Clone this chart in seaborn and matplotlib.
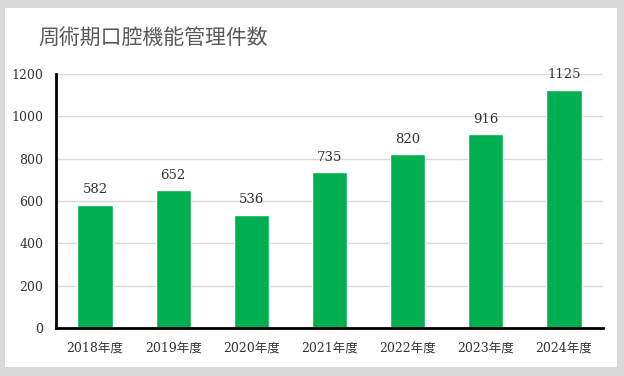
import pandas as pd
import matplotlib
matplotlib.use('Agg')
import matplotlib.pyplot as plt
import seaborn as sns
from matplotlib.patches import Rectangle

# data
years = ['2018年度', '2019年度', '2020年度', '2021年度', '2022年度', '2023年度', '2024年度']
counts = [582, 652, 536, 735, 820, 916, 1125]
y_ticks = [0, 200, 400, 600, 800, 1000, 1200]
title = '周術期口腔機能管理件数'

df = pd.DataFrame({'year': years, 'count': counts})

sns.set_theme(style='white')
plt.rcParams['font.family'] = ['DejaVu Serif', 'Noto Sans CJK JP']

fig = plt.figure(figsize=(6.24, 3.76), dpi=100)
fig.patch.set_facecolor('#d9d9d9')
# white panel inside the gray frame
fig.add_artist(Rectangle((5 / 624, 9 / 376), 612 / 624, 359 / 376,
                         transform=fig.transFigure, facecolor='white',
                         edgecolor='none', zorder=0))

ax = fig.add_axes([56 / 624, 48 / 376, 547 / 624, 254 / 376])
ax.set_facecolor('white')

sns.barplot(data=df, x='year', y='count', color='#00b050', width=0.45,
            saturation=1, ax=ax, zorder=3)

ax.set_ylim(0, 1200)
ax.set_yticks(y_ticks)
ax.yaxis.grid(True, color='#d9d9d9', linewidth=1)
ax.set_axisbelow(True)
ax.set_xlabel('')
ax.set_ylabel('')

for s in ['top', 'right']:
    ax.spines[s].set_visible(False)
for s in ['left', 'bottom']:
    ax.spines[s].set_color('black')
    ax.spines[s].set_linewidth(2)
    ax.spines[s].set_zorder(4)

ax.tick_params(axis='both', length=0, labelsize=9, colors='#333333')
ax.tick_params(axis='x', pad=10)
ax.tick_params(axis='y', pad=9)
for lab in ax.get_xticklabels():
    lab.set_fontfamily(['DejaVu Serif', 'Noto Sans CJK JP'])

for i, v in enumerate(counts):
    ax.text(i, v + 40, str(v), ha='center', va='bottom', fontsize=9.5,
            color='#333333')

fig.text(38 / 624, 1 - 38 / 376, title, fontsize=15, color='#595959',
         family=['Noto Sans CJK JP'], va='center', ha='left')

fig.savefig('out.png', dpi=100, facecolor=fig.get_facecolor())
